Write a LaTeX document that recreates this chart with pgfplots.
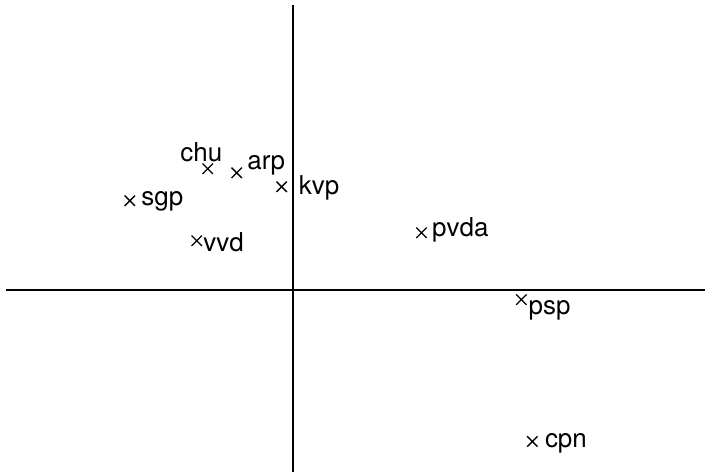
\documentclass[border=0pt]{standalone}
\usepackage{pgfplots}
\pgfplotsset{compat=1.18}
\usepackage{pgfplotstable}
\usepackage{fontspec}
\setmainfont{TeX Gyre Heros}

% party positions on the first two components; dx/dy place each label (pt)
\pgfplotstableread{
x     y     label  dx     dy
-85   121   chu    -21    5.25
-56   117   arp    7.5    2.25
-11   103   kvp    12.5   -6
-163  89    sgp    8.25   -3.75
-96   49    vvd    4.5    -8.25
129   57    pvda   7.5    -3
229   -10   psp    5      -11.25
240   -152  cpn    9      -4.5
}\parties

\begin{document}
\begin{tikzpicture}
\begin{axis}[
  scale only axis,
  width=525pt, height=351pt,
  xmin=-287, xmax=413,
  ymin=-183, ymax=285,
  axis lines=middle,
  axis line style={-, line width=1.3pt},
  xtick=\empty, ytick=\empty,
  clip=false,
]
\path (axis cs:-293,-186) rectangle (axis cs:413,290);
\addplot[
  only marks, mark=x, mark size=5.5pt, mark options={line width=1pt},
  nodes near coords,
  point meta=explicit symbolic,
  visualization depends on={\thisrow{dx} \as \dx},
  visualization depends on={\thisrow{dy} \as \dy},
  every node near coord/.append style={
    anchor=base west, inner sep=0pt,
    xshift=\dx pt, yshift=\dy pt,
    font=\fontsize{19.5}{22}\selectfont, text=black},
] table[x=x, y=y, meta=label] {\parties};
\end{axis}
\end{tikzpicture}
\end{document}
